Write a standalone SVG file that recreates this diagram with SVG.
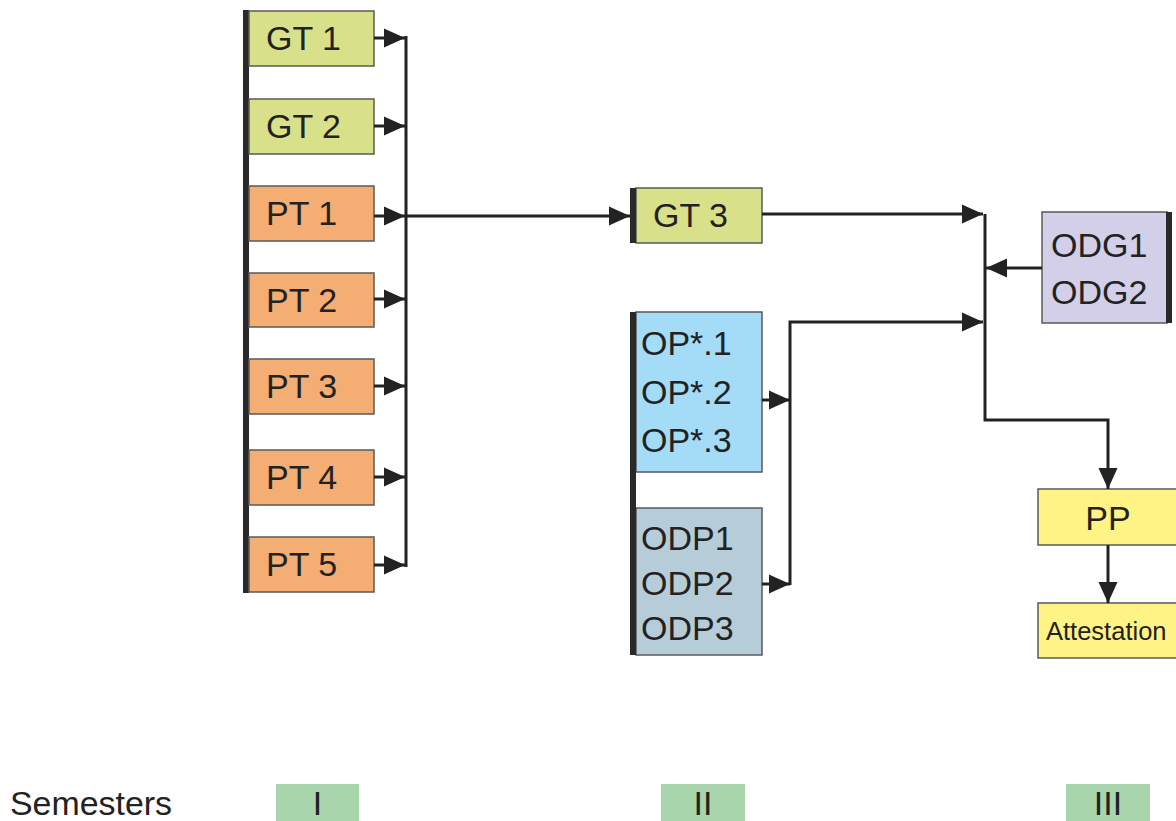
<svg xmlns="http://www.w3.org/2000/svg" width="1176" height="821" viewBox="0 0 1176 821">
<defs>
<marker id="ah" markerUnits="userSpaceOnUse" markerWidth="24" markerHeight="22" refX="21" refY="11" orient="auto">
<path d="M0,1.5 L21,11 L0,20.5 Z" fill="#222"/>
</marker>
<style>
.box{stroke:#5a5a5a;stroke-width:1.5}
.gt{fill:#d9e08a}
.pt{fill:#f4ad72}
.op{fill:#a4dbf6}
.odp{fill:#b6cdd9}
.odg{fill:#d3cfe8}
.pp{fill:#fff385}
.sem{fill:#a9d5ad}
.bar{fill:#2a2a2a}
.t{font-family:"Liberation Sans",Arial,sans-serif;font-size:34px;fill:#222}
.ts{font-family:"Liberation Sans",Arial,sans-serif;font-size:25.5px;fill:#222}
.c{fill:none;stroke:#222;stroke-width:3}
</style>
</defs>
<rect width="1176" height="821" fill="#fff"/>

<g id="leftbar"><rect class="bar" x="243" y="10" width="6" height="583"/></g>
<g id="GT1"><rect class="box gt" x="249" y="11" width="125" height="55"/><text class="t" x="266" y="50">GT 1</text></g>
<g id="GT2"><rect class="box gt" x="249" y="99" width="125" height="55"/><text class="t" x="266" y="138">GT 2</text></g>
<g id="PT1"><rect class="box pt" x="249" y="186" width="125" height="55"/><text class="t" x="266" y="225">PT 1</text></g>
<g id="PT2"><rect class="box pt" x="249" y="273" width="125" height="54"/><text class="t" x="266" y="312">PT 2</text></g>
<g id="PT3"><rect class="box pt" x="249" y="359" width="125" height="55"/><text class="t" x="266" y="398">PT 3</text></g>
<g id="PT4"><rect class="box pt" x="249" y="450" width="125" height="55"/><text class="t" x="266" y="489">PT 4</text></g>
<g id="PT5"><rect class="box pt" x="249" y="537" width="125" height="55"/><text class="t" x="266" y="576">PT 5</text></g>

<g id="GT3"><rect class="box gt" x="636" y="188" width="126" height="55"/><rect class="bar" x="630" y="188" width="6" height="55"/><text class="t" x="653" y="227">GT 3</text></g>

<g id="OP"><rect class="box op" x="636" y="312" width="126" height="160"/><text class="t" x="641" y="355">OP*.1</text><text class="t" x="641" y="404">OP*.2</text><text class="t" x="641" y="452">OP*.3</text></g>
<g id="ODP"><rect class="box odp" x="636" y="508" width="126" height="147"/><text class="t" x="641" y="550">ODP1</text><text class="t" x="641" y="595">ODP2</text><text class="t" x="641" y="640">ODP3</text></g>
<g id="midbar"><rect class="bar" x="630" y="312" width="6" height="343"/></g>

<g id="ODG"><rect class="box odg" x="1042" y="212" width="125" height="111"/><rect class="bar" x="1166" y="212" width="6" height="111"/><text class="t" x="1051" y="257">ODG1</text><text class="t" x="1051" y="304">ODG2</text></g>

<g id="PP"><rect class="box pp" x="1038" y="489" width="145" height="56"/><text class="t" x="1108" y="530" text-anchor="middle">PP</text></g>
<g id="Attestation"><rect class="box pp" x="1038" y="603" width="145" height="55"/><text class="ts" x="1046" y="640">Attestation</text></g>

<g id="semesters">
<text class="t" x="10" y="815" textLength="162" lengthAdjust="spacingAndGlyphs">Semesters</text>
<rect class="sem" x="276" y="784" width="83" height="37"/><text class="t" x="317.5" y="815" text-anchor="middle">I</text>
<rect class="sem" x="661" y="784" width="84" height="37"/><text class="t" x="703" y="815" text-anchor="middle">II</text>
<rect class="sem" x="1066" y="784" width="84" height="37"/><text class="t" x="1108" y="815" text-anchor="middle">III</text>
</g>

<g id="connectors">
<line class="c" x1="374" y1="38" x2="405" y2="38" marker-end="url(#ah)"/>
<line class="c" x1="374" y1="126" x2="405" y2="126" marker-end="url(#ah)"/>
<line class="c" x1="374" y1="216" x2="405" y2="216" marker-end="url(#ah)"/>
<line class="c" x1="374" y1="299" x2="405" y2="299" marker-end="url(#ah)"/>
<line class="c" x1="374" y1="386" x2="405" y2="386" marker-end="url(#ah)"/>
<line class="c" x1="374" y1="477" x2="405" y2="477" marker-end="url(#ah)"/>
<line class="c" x1="374" y1="565" x2="405" y2="565" marker-end="url(#ah)"/>
<line class="c" x1="406" y1="36" x2="406" y2="567"/>
<line class="c" x1="406" y1="216" x2="630" y2="216" marker-end="url(#ah)"/>
<line class="c" x1="762" y1="214" x2="983" y2="214" marker-end="url(#ah)"/>
<line class="c" x1="762" y1="400" x2="790" y2="400" marker-end="url(#ah)"/>
<line class="c" x1="762" y1="584" x2="790" y2="584" marker-end="url(#ah)"/>
<polyline class="c" points="790,585 790,322 983,322" marker-end="url(#ah)"/>
<line class="c" x1="1042" y1="268" x2="986" y2="268" marker-end="url(#ah)"/>
<polyline class="c" points="985,214 985,420 1108,420 1108,489" marker-end="url(#ah)"/>
<line class="c" x1="1108" y1="545" x2="1108" y2="603" marker-end="url(#ah)"/>
</g>
</svg>
